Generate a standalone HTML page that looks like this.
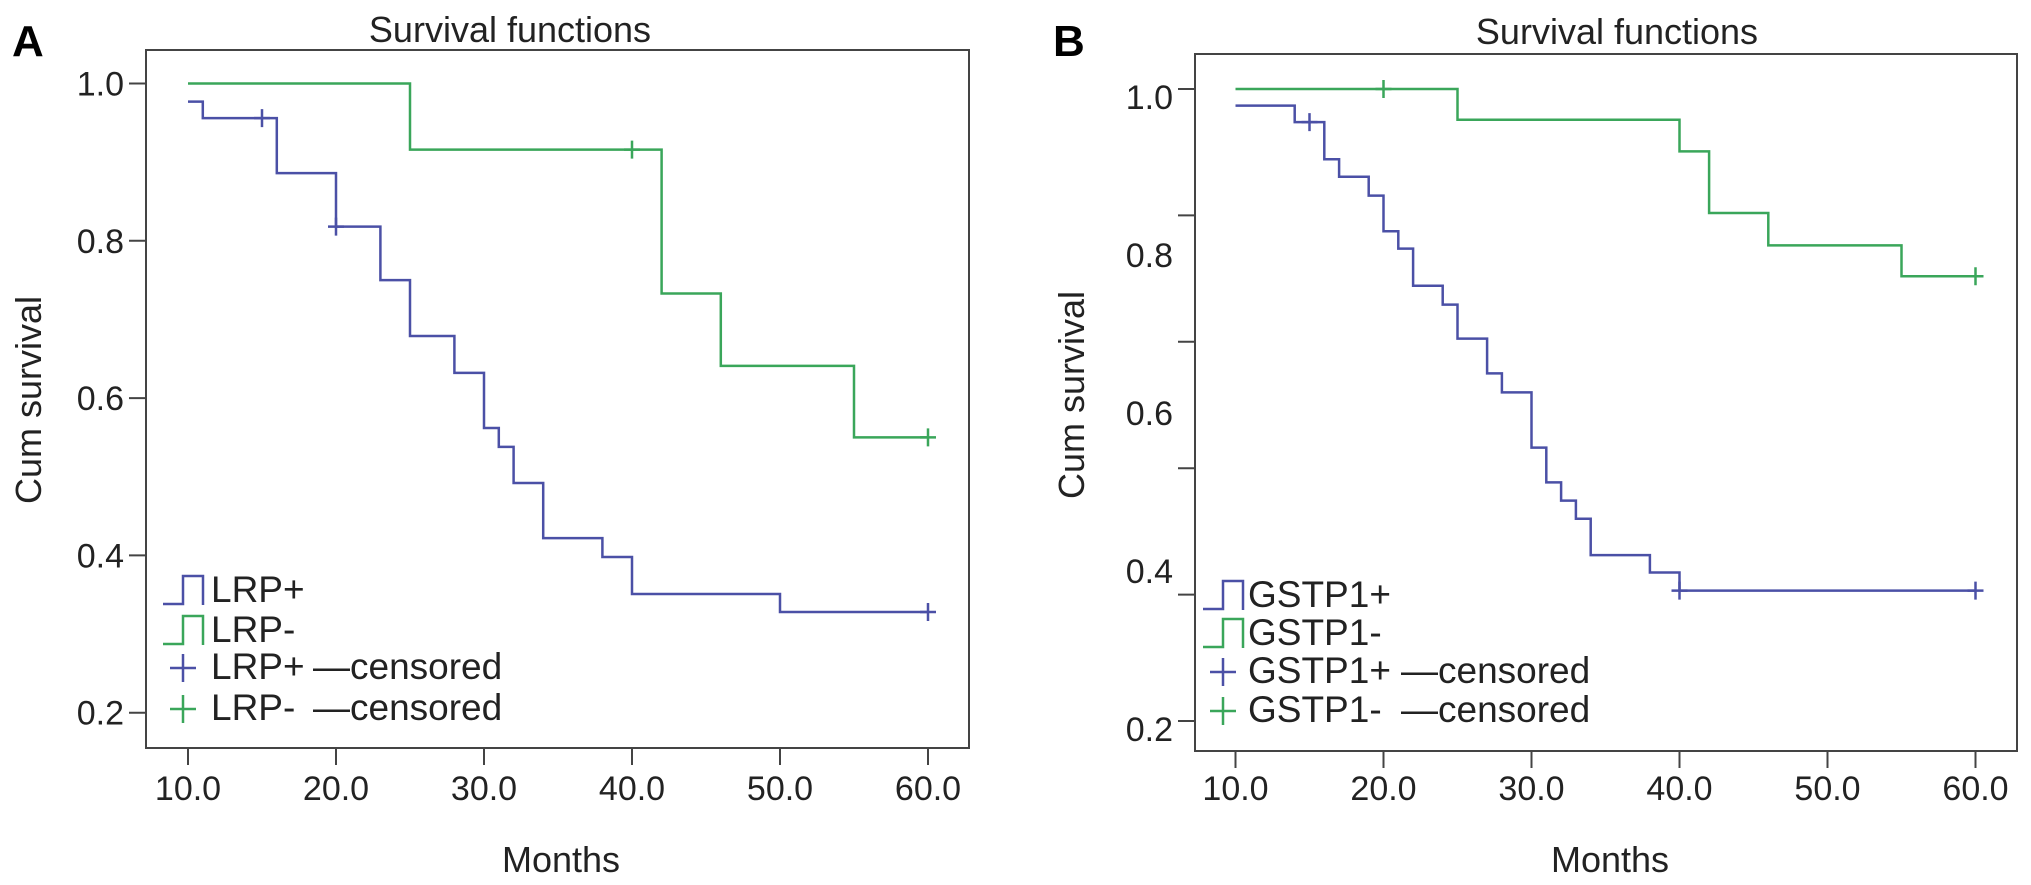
<!DOCTYPE html>
<html><head><meta charset="utf-8">
<style>
html,body{margin:0;padding:0;background:#fff;}
svg{display:block;font-family:"Liberation Sans",Arial,sans-serif;}
</style></head>
<body>
<svg id="fig" width="2031" height="885" viewBox="0 0 2031 885"></svg>
<script>
// ---------- Data ----------
const xTicks = [10, 20, 30, 40, 50, 60];
const xTickLabels = ["10.0","20.0","30.0","40.0","50.0","60.0"];
const yLabelVals = [1.0, 0.8, 0.6, 0.4, 0.2];
const yLabelText = ["1.0","0.8","0.6","0.4","0.2"];
const yTicksA = [1.0, 0.8, 0.6, 0.4, 0.2];
const yTicksB = [1.0, 0.84, 0.68, 0.52, 0.36, 0.2];

// Panel A
const lrpPosTimes = [10, 11, 16, 20, 23, 25, 28, 30, 31, 32, 34, 38, 40, 50, 60];
const lrpPosSurv  = [0.977, 0.956, 0.886, 0.818, 0.750, 0.679, 0.632, 0.562, 0.538, 0.492, 0.422, 0.398, 0.351, 0.328, 0.328];
const lrpPosCensT = [15, 20, 60];
const lrpNegTimes = [10, 25, 42, 46, 55, 60];
const lrpNegSurv  = [1.0, 0.916, 0.733, 0.641, 0.550, 0.550];
const lrpNegCensT = [40, 60];

// Panel B
const gstPosTimes = [10, 14, 16, 17, 19, 20, 21, 22, 24, 25, 27, 28, 30, 31, 32, 33, 34, 38, 40, 60];
const gstPosSurv  = [0.979, 0.958, 0.911, 0.889, 0.865, 0.820, 0.798, 0.751, 0.727, 0.684, 0.640, 0.616, 0.546, 0.502, 0.479, 0.456, 0.410, 0.388, 0.365, 0.365];
const gstPosCensT = [15, 40, 60];
const gstNegTimes = [10, 25, 40, 42, 46, 55, 60];
const gstNegSurv  = [1.0, 0.961, 0.921, 0.843, 0.802, 0.763, 0.763];
const gstNegCensT = [20, 60];

const BLUE = "#4b50a6", GREEN = "#3aa65a", INK = "#222";
const svg = document.getElementById('fig');
const NS = "http://www.w3.org/2000/svg";
function mk(tag, attrs, parent){
  const e = document.createElementNS(NS, tag);
  for (const k in attrs) e.setAttribute(k, attrs[k]);
  (parent||svg).appendChild(e); return e;
}
function txt(s, attrs, parent){ const t = mk('text', attrs, parent); t.textContent = s; return t; }

function survAt(times, surv, t){
  let v = surv[0];
  for (let i=0;i<times.length;i++){ if (times[i] <= t) v = surv[i]; }
  return v;
}

function panel(cfg){
  const g = mk('g', {});
  
  
  const X = v => cfg.x10 + (v - 10) * cfg.xs;
  const Y = v => cfg.y1 + (1 - v) * cfg.ys;

  const letter = txt(cfg.letter, {x: cfg.letterX, y: cfg.letterY, 'font-size': 44, 'font-weight': 'bold', fill: '#000'}, g);
  
  

  const title = txt("Survival functions", {x: cfg.titleX, y: cfg.titleY, 'font-size': 36, 'text-anchor': 'middle', fill: INK}, g);
  
  

  const box = mk('rect', {x: cfg.bx0, y: cfg.by0, width: cfg.bx1 - cfg.bx0, height: cfg.by1 - cfg.by0, fill: 'none', stroke: '#444', 'stroke-width': 2}, g);
  
  

  cfg.yTicks.forEach(v => {
    const tk = mk('line', {x1: cfg.bx0 - 17, x2: cfg.bx0, y1: Y(v), y2: Y(v), stroke: '#444', 'stroke-width': 2}, g);
    
    
  });
  yLabelVals.forEach((v, i) => {
    const t = txt(yLabelText[i], {x: cfg.bx0 - 22, y: Y(v) + 12 + cfg.yLabOff, 'font-size': 34, 'text-anchor': 'end', fill: INK}, g);
    
    
  });
  xTicks.forEach((v, i) => {
    const tk = mk('line', {x1: X(v), x2: X(v), y1: cfg.by1, y2: cfg.by1 + 17, stroke: '#444', 'stroke-width': 2}, g);
    
    
    const t = txt(xTickLabels[i], {x: X(v), y: 800, 'font-size': 34, 'text-anchor': 'middle', fill: INK}, g);
    
    
  });
  const xt = txt("Months", {x: cfg.monthsX, y: 872, 'font-size': 36, 'text-anchor': 'middle', fill: INK}, g);
  
  
  const yt = txt("Cum survival", {x: 0, y: 0, 'font-size': 36, 'text-anchor': 'middle', fill: INK,
    transform: `translate(${cfg.yTitleX},${cfg.yTitleY}) rotate(-90)`}, g);
  
  

  cfg.series.forEach(s => {
    let d = `M${X(s.times[0])},${Y(s.surv[0])}`;
    for (let i = 1; i < s.times.length; i++){
      d += ` H${X(s.times[i])} V${Y(s.surv[i])}`;
    }
    const p = mk('path', {d: d, fill: 'none', stroke: s.color, 'stroke-width': 2.5}, g);
    
    
    s.cens.forEach(t => {
      const cx = X(t), cy = Y(survAt(s.times, s.surv, t));
      const c = mk('path', {d: `M${cx-8},${cy} H${cx+8} M${cx},${cy-9} V${cy+9}`, stroke: s.color, 'stroke-width': 2.5, fill: 'none'}, g);
      
      
    });
  });

  const lg = mk('g', {}, g);
  
  
  cfg.legend.forEach((it, i) => {
    const by = cfg.legY[i];
    const ix = cfg.legIconX;
    let icon;
    if (it.kind === 'step'){
      icon = mk('path', {d: `M${ix},${by+2} H${ix+20} V${by-26} H${ix+40} V${by+3}`, fill: 'none', stroke: it.color, 'stroke-width': 2.5}, lg);
    } else {
      const cx = ix + 20, cy = by - 11;
      icon = mk('path', {d: `M${cx-13},${cy} H${cx+13} M${cx},${cy-14} V${cy+14}`, fill: 'none', stroke: it.color, 'stroke-width': 2.5}, lg);
    }
    
    
    const t = txt(it.label, {x: cfg.legTextX, y: by, 'font-size': 37, fill: INK}, lg);
    
    
    if (it.kind === 'cens'){
      const t2 = txt("\u2014censored", {x: cfg.censX, y: by, 'font-size': 37, fill: INK}, lg);
      
      
    }
  });
}

panel({
  name: 'panel-a-lrp', letter: 'A', letterX: 12, letterY: 56,
  titleX: 510, titleY: 42,
  bx0: 146, by0: 50, bx1: 969, by1: 748,
  x10: 188, xs: 14.8, y1: 83.5, ys: 786.5, yLabOff: 0,
  yTicks: yTicksA,
  monthsX: 561, yTitleX: 41, yTitleY: 400,
  series: [
    {name: 'lrp-positive', times: lrpPosTimes, surv: lrpPosSurv, cens: lrpPosCensT, color: BLUE},
    {name: 'lrp-negative', times: lrpNegTimes, surv: lrpNegSurv, cens: lrpNegCensT, color: GREEN}
  ],
  legend: [
    {kind: 'step', label: 'LRP+', color: BLUE},
    {kind: 'step', label: 'LRP-', color: GREEN},
    {kind: 'cens', label: 'LRP+', color: BLUE},
    {kind: 'cens', label: 'LRP-', color: GREEN}
  ],
  legY: [602, 642, 679, 720], legIconX: 163, legTextX: 211, censX: 313
});

panel({
  name: 'panel-b-gstp1', letter: 'B', letterX: 1053, letterY: 56,
  titleX: 1617, titleY: 44,
  bx0: 1195, by0: 54, bx1: 2017, by1: 751,
  x10: 1235.5, xs: 14.8, y1: 89, ys: 790, yLabOff: 8,
  yTicks: yTicksB,
  monthsX: 1610, yTitleX: 1084, yTitleY: 395,
  series: [
    {name: 'gstp1-positive', times: gstPosTimes, surv: gstPosSurv, cens: gstPosCensT, color: BLUE},
    {name: 'gstp1-negative', times: gstNegTimes, surv: gstNegSurv, cens: gstNegCensT, color: GREEN}
  ],
  legend: [
    {kind: 'step', label: 'GSTP1+', color: BLUE},
    {kind: 'step', label: 'GSTP1-', color: GREEN},
    {kind: 'cens', label: 'GSTP1+', color: BLUE},
    {kind: 'cens', label: 'GSTP1-', color: GREEN}
  ],
  legY: [607, 645, 683, 722], legIconX: 1203, legTextX: 1248, censX: 1401
});
</script>
</body></html>
